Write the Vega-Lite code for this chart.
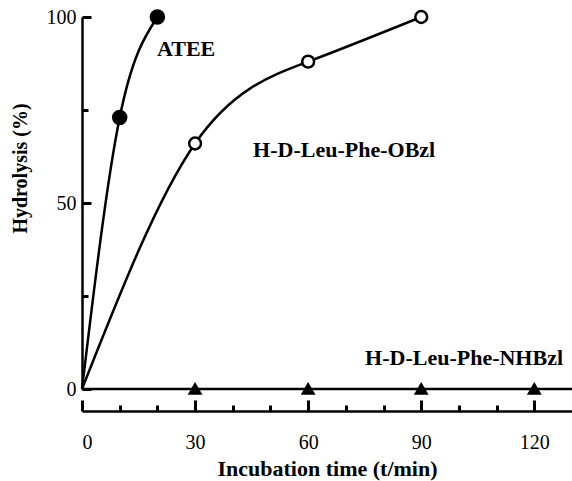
{
  "$schema": "https://vega.github.io/schema/vega-lite/v6.json",
  "autosize": {"type": "none"},
  "width": 490,
  "height": 372,
  "padding": {"left": 82, "top": 17, "right": 0, "bottom": 92},
  "background": "white",
  "config": {
    "view": {"stroke": null},
    "font": "Liberation Serif",
    "axis": {
      "domainColor": "black", "domainWidth": 2.5,
      "labelColor": "black", "labelFont": "Liberation Serif", "labelFontSize": 20,
      "titleColor": "black", "titleFont": "Liberation Serif", "titleFontWeight": "bold",
      "grid": false
    }
  },
  "datasets": {
    "curves": [
      {"series": "ATEE", "t": 0, "h": 0, "marker": false},
      {"series": "ATEE", "t": 10, "h": 73, "marker": true},
      {"series": "ATEE", "t": 20, "h": 100, "marker": true},
      {"series": "OBzl", "t": 0, "h": 0, "marker": false},
      {"series": "OBzl", "t": 30, "h": 66, "marker": true},
      {"series": "OBzl", "t": 60, "h": 88, "marker": true},
      {"series": "OBzl", "t": 90, "h": 100, "marker": true},
      {"series": "NHBzl", "t": 0, "h": 0, "marker": false},
      {"series": "NHBzl", "t": 30, "h": 0, "marker": true},
      {"series": "NHBzl", "t": 60, "h": 0, "marker": true},
      {"series": "NHBzl", "t": 90, "h": 0, "marker": true},
      {"series": "NHBzl", "t": 120, "h": 0, "marker": true},
      {"series": "NHBzl", "t": 130, "h": 0, "marker": false}
    ],
    "labels": [
      {"label": "ATEE", "t": 19.9, "h": 89.5},
      {"label": "H-D-Leu-Phe-OBzl", "t": 45.4, "h": 62.5},
      {"label": "H-D-Leu-Phe-NHBzl", "t": 75.1, "h": 6.5}
    ]
  },
  "resolve": {"axis": {"x": "independent", "y": "independent"}},
  "layer": [
    {
      "data": {"name": "curves"},
      "mark": {"type": "line", "color": "black", "strokeWidth": 2.5, "interpolate": "natural", "clip": false},
      "encoding": {
        "x": {
          "field": "t", "type": "quantitative",
          "scale": {"domain": [0, 130], "nice": false, "zero": false},
          "axis": {
            "orient": "bottom",
            "title": "Incubation time (t/min)",
            "titleFontSize": 22,
            "values": [0, 30, 60, 90, 120],
            "tickColor": "#000000", "tickWidth": 3,
            "tickSize": -11,
            "offset": 22,
            "labelPadding": 32,
            "titlePadding": 6
          }
        },
        "y": {
          "field": "h", "type": "quantitative",
          "scale": {"domain": [0, 100], "nice": false},
          "axis": {
            "orient": "left",
            "title": "Hydrolysis (%)",
            "titleFontSize": 20,
            "titleY": 151,
            "values": [0, 50, 100],
            "tickColor": "#000000", "tickWidth": 3,
            "tickSize": -9,
            "labelPadding": 15,
            "titlePadding": 16
          }
        },
        "detail": {"field": "series"}
      }
    },
    {
      "data": {"name": "curves"},
      "transform": [{"filter": "datum.marker"}],
      "mark": {"type": "point", "stroke": "black", "strokeWidth": 2.5, "opacity": 1, "clip": false},
      "encoding": {
        "x": {"field": "t", "type": "quantitative", "axis": null},
        "y": {"field": "h", "type": "quantitative", "axis": null},
        "shape": {"field": "series", "type": "nominal", "scale": {"domain": ["ATEE", "OBzl", "NHBzl"], "range": ["circle", "circle", "triangle-up"]}, "legend": null},
        "fill": {"field": "series", "type": "nominal", "scale": {"domain": ["ATEE", "OBzl", "NHBzl"], "range": ["black", "white", "black"]}, "legend": null},
        "size": {"field": "series", "type": "nominal", "scale": {"domain": ["ATEE", "OBzl", "NHBzl"], "range": [170, 110, 300]}, "legend": null}
      }
    },
    {
      "data": {"name": "labels"},
      "mark": {"type": "text", "align": "left", "baseline": "alphabetic", "font": "Liberation Serif", "fontSize": 22, "fontWeight": "bold", "color": "black"},
      "encoding": {
        "x": {
          "field": "t", "type": "quantitative",
          "axis": {
            "orient": "bottom", "offset": 22, "title": null, "labels": false, "domain": false,
            "values": [10, 20, 40, 50, 70, 80, 100, 110], "tickSize": -6, "tickColor": "#000000", "tickWidth": 3
          }
        },
        "y": {
          "field": "h", "type": "quantitative",
          "axis": {
            "orient": "left", "title": null, "labels": false, "domain": false,
            "values": [25, 75], "tickSize": -6, "tickColor": "#000000", "tickWidth": 3
          }
        },
        "text": {"field": "label"}
      }
    }
  ]
}
